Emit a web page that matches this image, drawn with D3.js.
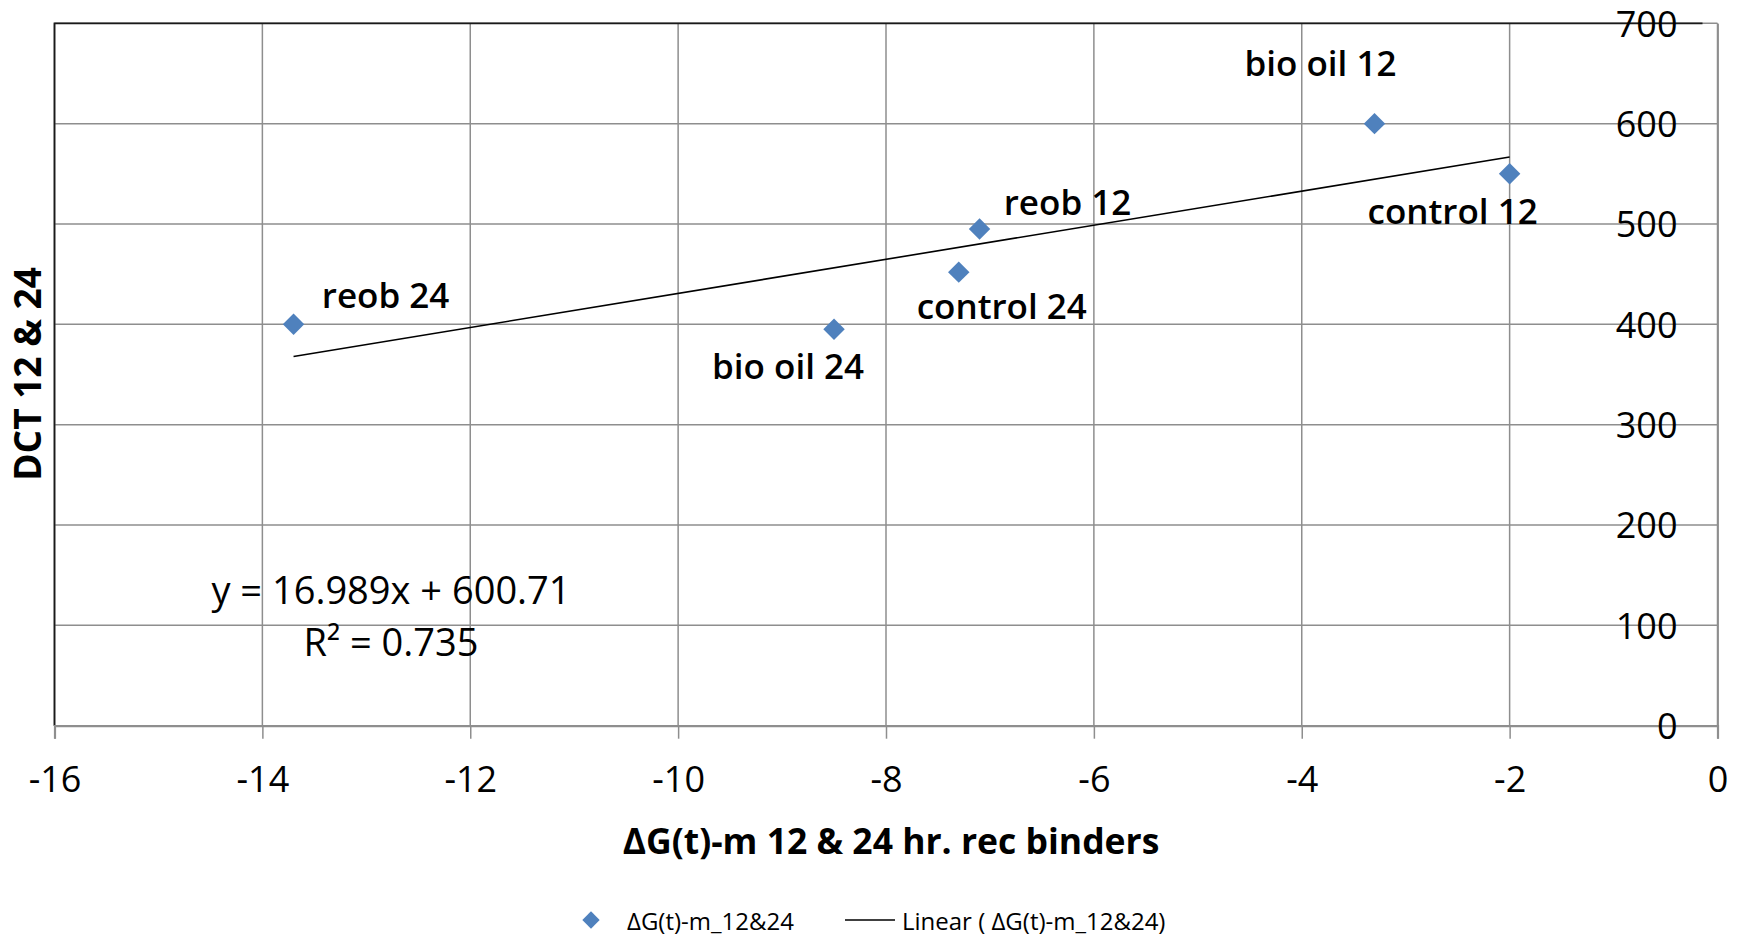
<!DOCTYPE html>
<html>
<head>
<meta charset="utf-8">
<script src="https://cdn.jsdelivr.net/npm/d3@7"></script>
<style>
body { margin: 0; background: #fff; }
text { font-family: "Open Sans", sans-serif; fill: #000; }
.tick text { font-size: 36px; font-family: "Open Sans", sans-serif; fill: #000; }
.point-label { font-size: 35px; font-weight: 600; }
.axis-title { font-size: 35.5px; font-weight: 700; }
.y-title { font-size: 37px; }
.equation { font-size: 38px; }
.legend { font-size: 24px; }
</style>
</head>
<body>
<div class="chart"></div>
<script>
// values
const names = ["reob 24", "bio oil 24", "control 24", "reob 12", "bio oil 12", "control 12"];
const dG = [-13.7, -8.5, -7.3, -7.1, -3.3, -2.0];
const dct = [400, 395, 452, 495, 600, 550];
const xTicks = [-16, -14, -12, -10, -8, -6, -4, -2, 0];
const yTicks = [0, 100, 200, 300, 400, 500, 600, 700];
const trendSlope = 16.989;
const trendIntercept = 600.71;
const equationLines = ["y = 16.989x + 600.71", "R² = 0.735"];
const seriesName = "ΔG(t)-m_12&24";
const xTitle = "ΔG(t)-m 12 & 24 hr. rec binders";
const yTitle = "DCT 12 & 24";

// where each data label sits relative to its marker
const labelPlace = {
    "reob 24":    {dx: 92,  dy: -30},
    "bio oil 24": {dx: -46, dy: 36},
    "control 24": {dx: 43,  dy: 33},
    "reob 12":    {dx: 88,  dy: -28},
    "bio oil 12": {dx: -54, dy: -61},
    "control 12": {dx: -57, dy: 37}
};

const data = names.map((n, i) => ({name: n, x: dG[i], y: dct[i]}));

const width = 1742;
const height = 937;
const plotLeft = 54.5, plotRight = 1717.5, plotTop = 23.3, plotBottom = 725.7;

const svg = d3.select(".chart").append("svg")
    .attr("width", width)
    .attr("height", height);

const x = d3.scaleLinear().domain([-16, 0]).range([plotLeft, plotRight]);
const y = d3.scaleLinear().domain([0, 700]).range([plotBottom, plotTop]);

const gridColor = "#8e8e8e";

// gridlines
svg.append("g").selectAll("line.vgrid")
    .data(xTicks)
    .enter().append("line")
    .attr("x1", d => x(d)).attr("x2", d => x(d))
    .attr("y1", plotTop).attr("y2", plotBottom)
    .attr("stroke", gridColor).attr("stroke-width", 1.5);

svg.append("g").selectAll("line.hgrid")
    .data(yTicks)
    .enter().append("line")
    .attr("x1", plotLeft).attr("x2", plotRight)
    .attr("y1", d => y(d)).attr("y2", d => y(d))
    .attr("stroke", gridColor).attr("stroke-width", 1.5);

// plot border, top and left
svg.append("path")
    .attr("d", `M${plotLeft},${plotBottom} L${plotLeft},${plotTop} L${plotRight - 15},${plotTop}`)
    .attr("fill", "none")
    .attr("stroke", "#1a1a1a")
    .attr("stroke-width", 1.8);

// x axis
const xAxis = svg.append("g")
    .attr("transform", `translate(0,${plotBottom})`)
    .call(d3.axisBottom(x).tickValues(xTicks).tickSize(13).tickPadding(28));
xAxis.select(".domain").attr("stroke", gridColor).attr("stroke-width", 2.2);
xAxis.selectAll(".tick line").attr("stroke", gridColor).attr("stroke-width", 1.5);
xAxis.selectAll(".tick text").text(d => d < 0 ? "-" + Math.abs(d) : d);

// y axis at x = 0
const yAxis = svg.append("g")
    .attr("transform", `translate(${plotRight},0)`)
    .call(d3.axisLeft(y).tickValues(yTicks).tickSize(0).tickPadding(40));
yAxis.select(".domain").attr("stroke", gridColor).attr("stroke-width", 1.8);
yAxis.selectAll(".tick text").attr("dy", "0.36em");

// trendline
const xExt = d3.extent(data, d => d.x);
svg.append("line")
    .attr("x1", x(xExt[0])).attr("y1", y(trendSlope * xExt[0] + trendIntercept))
    .attr("x2", x(xExt[1])).attr("y2", y(trendSlope * xExt[1] + trendIntercept))
    .attr("stroke", "#000")
    .attr("stroke-width", 1.6);

// markers
const diamond = d3.symbol().type(d3.symbolSquare).size(230);
svg.append("g").selectAll("path.pt")
    .data(data)
    .enter().append("path")
    .attr("d", diamond)
    .attr("transform", d => `translate(${x(d.x)},${y(d.y)}) rotate(45)`)
    .attr("fill", "#4f81bd");

// data labels
svg.append("g").selectAll("text.point-label")
    .data(data)
    .enter().append("text")
    .attr("class", "point-label")
    .attr("x", d => x(d.x) + labelPlace[d.name].dx)
    .attr("y", d => y(d.y) + labelPlace[d.name].dy)
    .attr("text-anchor", "middle")
    .attr("dominant-baseline", "central")
    .text(d => d.name);

// equation
svg.append("g").selectAll("text.equation")
    .data(equationLines)
    .enter().append("text")
    .attr("class", "equation")
    .attr("x", 391)
    .attr("y", (d, i) => 604 + i * 52)
    .attr("text-anchor", "middle")
    .text(d => d);

// axis titles
svg.append("text")
    .attr("class", "axis-title")
    .attr("x", 891)
    .attr("y", 840)
    .attr("text-anchor", "middle")
    .attr("dominant-baseline", "central")
    .text(xTitle);

svg.append("text")
    .attr("class", "axis-title y-title")
    .attr("transform", "translate(26,374) rotate(-90)")
    .attr("text-anchor", "middle")
    .attr("dominant-baseline", "central")
    .text(yTitle);

// legend
const legend = svg.append("g").attr("transform", "translate(0,920)");
legend.append("path")
    .attr("d", d3.symbol().type(d3.symbolSquare).size(150))
    .attr("transform", "translate(591,0) rotate(45)")
    .attr("fill", "#4f81bd");
legend.append("text")
    .attr("class", "legend")
    .attr("x", 627)
    .attr("dominant-baseline", "central")
    .text(seriesName);
legend.append("line")
    .attr("x1", 845).attr("x2", 895)
    .attr("stroke", "#000").attr("stroke-width", 1.6);
legend.append("text")
    .attr("class", "legend")
    .attr("x", 902)
    .attr("dominant-baseline", "central")
    .text("Linear ( " + seriesName + ")");
</script>
</body>
</html>
